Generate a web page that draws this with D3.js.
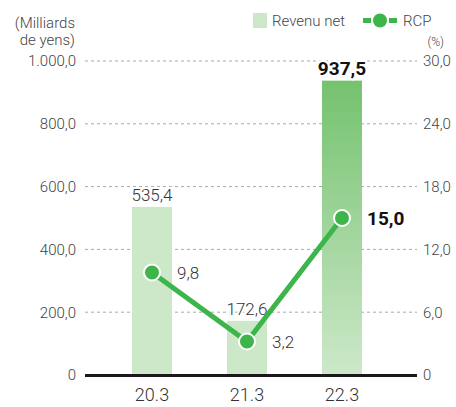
<!DOCTYPE html>
<html><head><meta charset="utf-8">
<script src="https://cdn.jsdelivr.net/npm/d3@7"></script>
<style>body{margin:0;background:#fff}svg{display:block;font-family:Roboto,"DejaVu Sans",sans-serif}</style>
</head><body><svg id="c" width="456" height="407"></svg>
<script>
const categories = ["20.3","21.3","22.3"];
const revenue = [535.4,172.6,937.5];
const rcp = [9.8,3.2,15.0];
const revenueLabels = ["535,4","172,6","937,5"];
const rcpLabels = ["9,8","3,2","15,0"];
const leftTicks = [0,200,400,600,800,1000];
const leftTickLabels = ["0","200,0","400,0","600,0","800,0","1.000,0"];
const rightTicks = [0,6,12,18,24,30];
const rightTickLabels = ["0","6,0","12,0","18,0","24,0","30,0"];

const svg = d3.select("#c");
const x0 = 85, x1 = 417, yb = 375, yt = 61;
const x = d3.scalePoint().domain(categories).range([152,342]);
const yL = d3.scaleLinear().domain([0,1000]).range([yb,yt]);
const yR = d3.scaleLinear().domain([0,30]).range([yb,yt]);
const bw = 40;
const txt = "#333";
const lw = 300;

const defs = svg.append("defs");
const g = defs.append("linearGradient").attr("id","gr").attr("x1",0).attr("x2",0).attr("y1",0).attr("y2",1);
g.append("stop").attr("offset","0%").attr("stop-color","#74c26e");
g.append("stop").attr("offset","100%").attr("stop-color","#cde8c9");

// grid
svg.append("g").selectAll("line").data(leftTicks.filter(d=>d>0)).join("line")
  .attr("x1",x0).attr("x2",x1).attr("y1",d=>yL(d)).attr("y2",d=>yL(d))
  .attr("stroke","#a8a8a8").attr("stroke-width",1).attr("stroke-dasharray","3,3");

// axis labels
svg.append("g").selectAll("text").data(leftTicks).join("text")
  .attr("x",76).attr("y",d=>yL(d)).attr("dy","0.36em").attr("text-anchor","end")
  .attr("font-size",15).attr("font-weight",lw).attr("fill","#444").text((d,i)=>leftTickLabels[i]);
svg.append("g").selectAll("text").data(rightTicks).join("text")
  .attr("x",423).attr("y",d=>yR(d)).attr("dy","0.36em").attr("text-anchor","start")
  .attr("font-size",15).attr("font-weight",lw).attr("fill","#444").text((d,i)=>rightTickLabels[i]);

// bars
svg.append("g").selectAll("rect").data(revenue).join("rect")
  .attr("x",(d,i)=>x(categories[i])-bw/2).attr("width",bw)
  .attr("y",d=>yL(d)).attr("height",d=>yb-yL(d))
  .attr("fill",(d,i)=>i===2?"url(#gr)":"#cde8c9");

// axis line
svg.append("line").attr("x1",x0).attr("x2",x1).attr("y1",yb+0.5).attr("y2",yb+0.5)
  .attr("stroke","#1a1a1a").attr("stroke-width",3);

// bar labels with white halo
svg.append("g").selectAll("text").data(revenue).join("text")
  .attr("x",(d,i)=>x(categories[i])).attr("y",d=>yL(d)-6).attr("text-anchor","middle")
  .attr("font-size",(d,i)=>i===2?19:17).attr("font-weight",(d,i)=>i===2?700:lw)
  .attr("fill",(d,i)=>i===2?"#111":txt)
  .attr("stroke","#fff").attr("stroke-width",4).attr("paint-order","stroke")
  .text((d,i)=>revenueLabels[i]);

// line
const line = d3.line().x((d,i)=>x(categories[i])).y(d=>yR(d));
svg.append("path").datum(rcp).attr("d",line).attr("fill","none")
  .attr("stroke","#3cb54a").attr("stroke-width",5);
svg.append("g").selectAll("circle").data(rcp).join("circle")
  .attr("cx",(d,i)=>x(categories[i])).attr("cy",d=>yR(d)).attr("r",8)
  .attr("fill","#3cb54a").attr("stroke","#fff").attr("stroke-width",2);
svg.append("g").selectAll("text").data(rcp).join("text")
  .attr("x",(d,i)=>x(categories[i])+25).attr("y",d=>yR(d)).attr("dy","0.36em")
  .attr("font-size",(d,i)=>i===2?19:17).attr("font-weight",(d,i)=>i===2?700:lw)
  .attr("fill",(d,i)=>i===2?"#111":txt)
  .text((d,i)=>rcpLabels[i]);

// x labels
svg.append("g").selectAll("text").data(categories).join("text")
  .attr("x",d=>x(d)).attr("y",401).attr("text-anchor","middle")
  .attr("font-size",18).attr("font-weight",lw).attr("fill",txt).text(d=>d);

// titles
svg.append("text").attr("x",75).attr("y",28).attr("text-anchor","end").attr("font-size",15).attr("font-weight",lw).attr("fill","#444").text("(Milliards");
svg.append("text").attr("x",75).attr("y",45).attr("text-anchor","end").attr("font-size",15).attr("font-weight",lw).attr("fill","#444").text("de yens)");
svg.append("text").attr("x",444).attr("y",46).attr("text-anchor","end").attr("font-size",12).attr("font-weight",lw).attr("fill","#444").text("(%)");

// legend
svg.append("rect").attr("x",253).attr("y",13).attr("width",14).attr("height",15).attr("fill","#cde8c9");
svg.append("text").attr("x",272).attr("y",26).attr("font-size",15).attr("font-weight",lw).attr("fill","#444").text("Revenu net");
svg.append("line").attr("x1",363).attr("x2",397).attr("y1",20.5).attr("y2",20.5).attr("stroke","#3cb54a").attr("stroke-width",5).attr("stroke-dasharray","8,18");
svg.append("line").attr("x1",363).attr("x2",397).attr("y1",20.5).attr("y2",20.5).attr("stroke","#3cb54a").attr("stroke-width",5).attr("stroke-dasharray","0,26,8");
svg.append("circle").attr("cx",380).attr("cy",20.5).attr("r",7).attr("fill","#3cb54a");
svg.append("text").attr("x",403).attr("y",26).attr("font-size",15).attr("font-weight",lw).attr("fill","#444").text("RCP");
</script></body></html>
